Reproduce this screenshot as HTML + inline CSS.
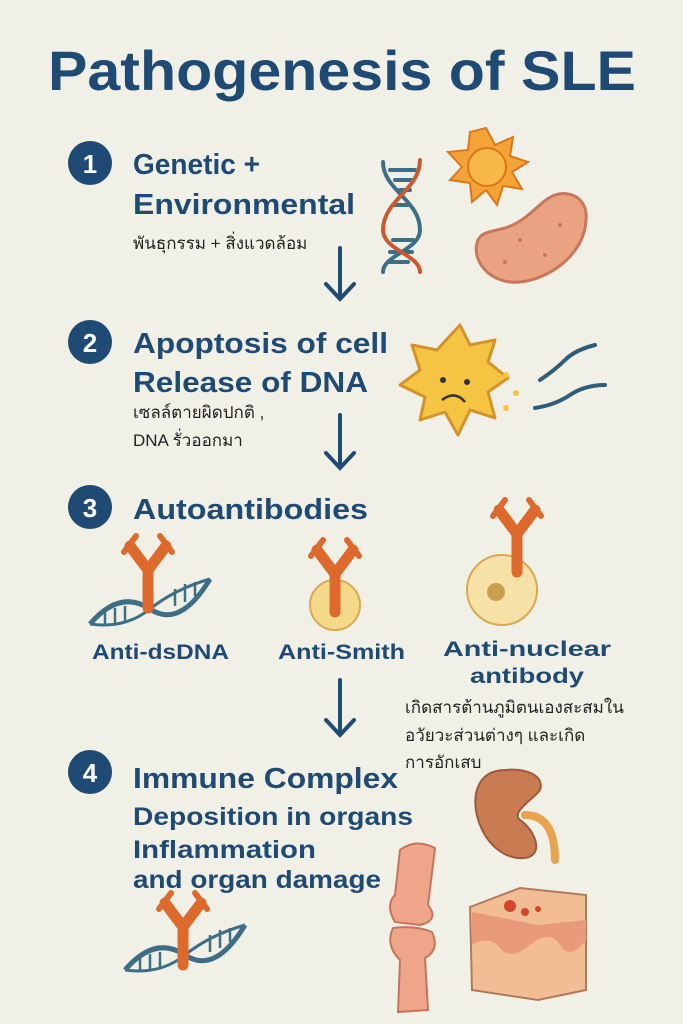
<!DOCTYPE html>
<html><head><meta charset="utf-8"><style>
html,body{margin:0;padding:0;background:#f1f0e7;}
svg{display:block}
.t{font-family:"Liberation Sans","DejaVu Sans",sans-serif;fill:#1f4a73;font-weight:bold;}
.th{font-family:"Liberation Sans","DejaVu Sans","Noto Sans CJK SC",sans-serif;fill:#222;font-size:17px;}
</style></head><body>
<svg width="683" height="1024" viewBox="0 0 683 1024">
<rect width="683" height="1024" fill="#f1f0e7"/>
<text class="t" x="48" y="90" font-size="56" lengthAdjust="spacingAndGlyphs" textLength="588">Pathogenesis of SLE</text>

<g font-family="Liberation Sans,sans-serif" font-weight="bold" font-size="26" text-anchor="middle" fill="#fff">
<circle cx="90" cy="163" r="22" fill="#1f4a73"/><text x="90" y="173">1</text>
<circle cx="90" cy="342" r="22" fill="#1f4a73"/><text x="90" y="352">2</text>
<circle cx="90" cy="507" r="22" fill="#1f4a73"/><text x="90" y="517">3</text>
<circle cx="90" cy="772" r="22" fill="#1f4a73"/><text x="90" y="782">4</text>
</g>

<g class="t" font-size="29" lengthAdjust="spacingAndGlyphs">
<text x="133" y="174" lengthAdjust="spacingAndGlyphs" textLength="127">Genetic +</text>
<text x="133" y="214" lengthAdjust="spacingAndGlyphs" textLength="222">Environmental</text>
<text x="133" y="353" lengthAdjust="spacingAndGlyphs" textLength="255">Apoptosis of cell</text>
<text x="133" y="392" lengthAdjust="spacingAndGlyphs" textLength="235">Release of DNA</text>
<text x="133" y="519" lengthAdjust="spacingAndGlyphs" textLength="235">Autoantibodies</text>
<text x="133" y="788" lengthAdjust="spacingAndGlyphs" textLength="265">Immune Complex</text>
</g>
<g class="t" font-size="25">
<text x="133" y="825" lengthAdjust="spacingAndGlyphs" textLength="280">Deposition in organs</text>
<text x="133" y="858" lengthAdjust="spacingAndGlyphs" textLength="183">Inflammation</text>
<text x="133" y="888" lengthAdjust="spacingAndGlyphs" textLength="248">and organ damage</text>
</g>
<g class="t" font-size="21">
<text x="92" y="659" lengthAdjust="spacingAndGlyphs" textLength="137">Anti-dsDNA</text>
<text x="278" y="659" lengthAdjust="spacingAndGlyphs" textLength="127">Anti-Smith</text>
<text x="443" y="656" lengthAdjust="spacingAndGlyphs" textLength="168">Anti-nuclear</text>
<text x="470" y="683" lengthAdjust="spacingAndGlyphs" textLength="114">antibody</text>
</g>
<text class="th" x="133" y="249">พันธุกรรม + สิ่งแวดล้อม</text>
<text class="th" x="133" y="418">เซลล์ตายผิดปกติ ,</text>
<text class="th" x="133" y="446">DNA รั่วออกมา</text>
<text class="th" x="405" y="713">เกิดสารต้านภูมิตนเองสะสมใน</text>
<text class="th" x="405" y="741">อวัยวะส่วนต่างๆ และเกิด</text>
<text class="th" x="405" y="768">การอักเสบ</text>

<g stroke="#1f4a73" stroke-width="4" fill="none" stroke-linecap="round">
<path d="M340 248V298M326 284L340 299L354 284"/>
<path d="M340 415V467M326 453L340 468L354 453"/>
<path d="M340 680V734M326 720L340 735L354 720"/>
</g>

<g fill="none" stroke-width="4" stroke-linecap="round">
<g stroke="#3e6e86">
<path d="M383 162C383 190 420 200 420 230C420 250 383 255 383 272"/>
<path d="M390 170H415M395 180H412M393 240H413M390 252H412M388 262H408M393 205H408M400 190H410"/>
</g>
<path d="M420 160C420 190 383 200 383 230C383 250 420 255 420 272" stroke="#c85a32"/>
</g>
<polygon points="486,128 495,145 513,137 510,156 528,162 512,172 522,189 503,186 497,205 486,190 472,202 470,183 450,180 462,167 448,152 468,150 470,132" fill="#f4a337" stroke="#d9771f" stroke-width="2"/>
<circle cx="487" cy="167" r="19" fill="#f7b848" stroke="#d9771f" stroke-width="2"/>
<path d="M478 240C470 260 490 285 520 282C555 278 585 250 586 220C588 198 570 190 555 195C540 200 530 220 505 228C490 232 482 232 478 240Z" fill="#e9a282" stroke="#c8775a" stroke-width="3"/>
<g fill="#c8775a"><circle cx="520" cy="240" r="2"/><circle cx="545" cy="255" r="2"/><circle cx="560" cy="225" r="2"/><circle cx="505" cy="262" r="2"/></g>

<path d="M460 325L470 345L495 340L488 362L508 378L488 392L495 418L470 410L458 435L445 412L420 420L425 397L400 385L420 370L412 345L437 350Z" fill="#f5c443" stroke="#d4922a" stroke-width="3" stroke-linejoin="round"/>
<circle cx="443" cy="380" r="3" fill="#333"/><circle cx="467" cy="382" r="3" fill="#333"/>
<path d="M442 400Q455 390 465 402" stroke="#333" stroke-width="2.5" fill="none"/>
<g fill="#f5c443"><circle cx="506" cy="375" r="3"/><circle cx="516" cy="393" r="3"/><circle cx="506" cy="408" r="3"/></g>
<g stroke="#2f5d78" stroke-width="4" fill="none" stroke-linecap="round">
<path d="M540 380Q555 370 565 360T595 345"/>
<path d="M535 408Q555 405 570 395T605 385"/>
</g>

<defs>
<g id="ab">
<path d="M0 0V-38M0 -38L-18 -62M0 -38L18 -62" stroke="#dd6a2c" stroke-width="11" stroke-linecap="round" fill="none"/>
<path d="M-24 -56L-12 -72M24 -56L12 -72" stroke="#dd6a2c" stroke-width="6" stroke-linecap="round" fill="none"/>
</g>
<g id="dna2">
<path d="M0 40Q30 5 60 25T120 -5" stroke="#3e6e86" stroke-width="5" fill="none"/>
<path d="M0 40Q35 45 60 25T120 -5" stroke="#3e6e86" stroke-width="3" fill="none"/>
<path d="M15 28V42M25 24V40M35 22V38M85 5V22M95 0V18M105 -2V12" stroke="#3e6e86" stroke-width="2.5"/>
</g>
</defs>
<use href="#dna2" x="90" y="584"/>
<use href="#ab" x="148" y="608"/>
<circle cx="335" cy="605" r="25" fill="#f5d98a" stroke="#d8a950" stroke-width="2"/>
<use href="#ab" x="335" y="612"/>
<circle cx="502" cy="590" r="35" fill="#f6e2a6" stroke="#d8a950" stroke-width="2"/>
<circle cx="496" cy="592" r="9" fill="#c9a04e"/>
<use href="#ab" x="517" y="572"/>

<use href="#dna2" x="125" y="930"/>
<use href="#ab" x="183" y="965"/>

<path d="M505 770C475 770 470 800 480 825C488 845 505 860 525 858C545 855 535 830 520 820C510 812 535 798 540 790C545 775 525 768 505 770Z" fill="#c97b52" stroke="#9d5a3a" stroke-width="2"/>
<path d="M525 815Q555 815 555 860" stroke="#e9a24e" stroke-width="8" fill="none" stroke-linecap="round"/>
<path d="M400 850Q415 838 435 848L428 905Q440 920 420 925L395 922Q385 905 395 895L400 850Z" fill="#efa58a" stroke="#c6755a" stroke-width="2"/>
<path d="M393 928Q415 925 432 932Q440 950 425 958L428 1010L398 1012L400 960Q385 945 393 928Z" fill="#efa58a" stroke="#c6755a" stroke-width="2"/>
<path d="M470 907L520 888L586 895L586 990L538 1000L472 990Z" fill="#f2bd95" stroke="#b07a5a" stroke-width="2"/>
<path d="M472 945Q490 935 500 948T530 945T560 945T586 940L586 920L538 925L472 912Z" fill="#e89a7a"/>
<circle cx="510" cy="906" r="6" fill="#d4452a"/><circle cx="525" cy="912" r="4" fill="#d4452a"/><circle cx="538" cy="909" r="3" fill="#d4452a"/>
</svg>
</body></html>
